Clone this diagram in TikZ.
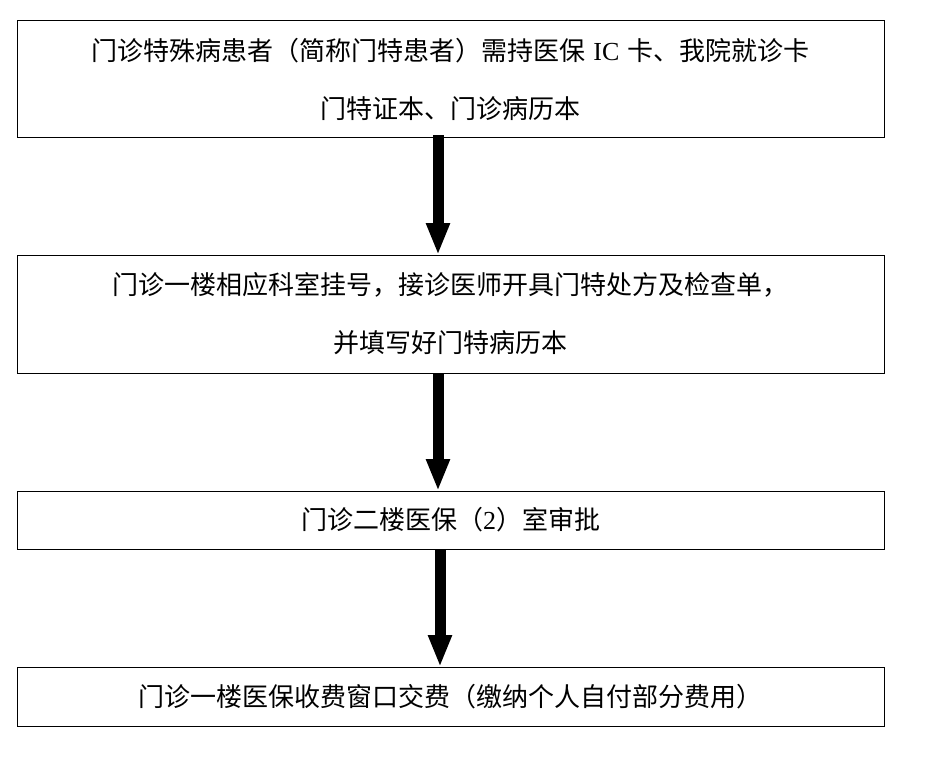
\documentclass[tikz,border=0pt]{standalone}
\usepackage{fontspec}
\setmainfont{Noto Sans CJK SC}
\newfontfamily\tnr{Liberation Serif}
\usetikzlibrary{arrows.meta}
\tikzset{
  stepbox/.style={draw=black, line width=1pt, rectangle, inner sep=0pt, outer sep=0pt,
    minimum width=867pt, align=center, font=\fontsize{26}{58}\selectfont},
  bigarrow/.style={line width=11pt, -{Triangle[length=32pt,width=22pt]}, black}
}
\begin{document}
\begin{tikzpicture}[x=1pt,y=-1pt]
\useasboundingbox (0,0) rectangle (927,760);
\node[stepbox, minimum height=116pt] (b1) at (450.5,79)
  {门诊特殊病患者（简称门特患者）需持医保\hspace{0.3em}{\tnr IC}\hspace{0.3em}卡、我院就诊卡\\门特证本、门诊病历本};
\node[stepbox, minimum height=118pt] (b2) at (450.5,314)
  {门诊一楼相应科室挂号，接诊医师开具门特处方及检查单，\\并填写好门特病历本};
\node[stepbox, minimum height=58pt] (b3) at (450.5,520)
  {门诊二楼医保（{\tnr 2}）室审批};
\node[stepbox, minimum height=59pt] (b4) at (450.5,696.5)
  {门诊一楼医保收费窗口交费（缴纳个人自付部分费用）};
\draw[bigarrow] ([xshift=-12.5pt,yshift=2pt]b1.south) -- ([xshift=-12.5pt]b2.north);
\draw[bigarrow] ([xshift=-12.5pt]b2.south) -- ([xshift=-12.5pt]b3.north);
\draw[bigarrow] ([xshift=-10.5pt]b3.south) -- ([xshift=-10.5pt]b4.north);
\end{tikzpicture}
\end{document}
